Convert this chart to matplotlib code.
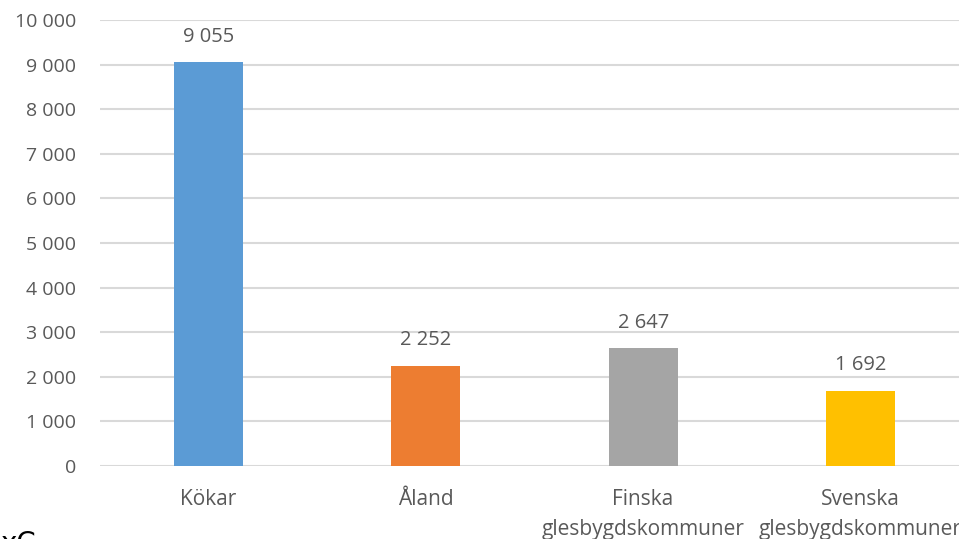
import matplotlib.pyplot as plt
import numpy as np

# Data
kategorier = ['Kökar', 'Åland', 'Finska\nglesbygdskommuner', 'Svenska\nglesbygdskommuner']
varden = [9055, 2252, 2647, 1692]
farger = ['#5B9BD5', '#ED7D31', '#A5A5A5', '#FFC000']
y_ticks = [0, 1000, 2000, 3000, 4000, 5000, 6000, 7000, 8000, 9000, 10000]

textfarg = '#595959'
plt.rcParams['font.family'] = ['Open Sans', 'DejaVu Sans']

fig = plt.figure(figsize=(9.59, 5.39), dpi=100)
# axes run a bit past the right edge, like the original
ax = fig.add_axes([100 / 959, 73 / 539, 869 / 959, 446 / 539])

x = np.arange(len(kategorier))
bars = ax.bar(x, varden, width=0.318, color=farger, zorder=3)

def fmt(v):
    return f'{v:,}'.replace(',', ' ')

for b, v in zip(bars, varden):
    ax.annotate(fmt(v), (b.get_x() + b.get_width() / 2, v), xytext=(0, 11),
                textcoords='offset points', ha='center', va='bottom',
                fontsize=14.5, color=textfarg)

ax.set_xlim(-0.5, len(kategorier) - 0.5)
ax.set_ylim(0, 10000)
ax.set_yticks(y_ticks)
ax.set_yticklabels([fmt(t) for t in y_ticks], fontsize=14)
ax.set_xticks(x)
ax.set_xticklabels(kategorier, linespacing=1.55, fontsize=15)
ax.tick_params(axis='both', length=0, colors=textfarg)
ax.tick_params(axis='x', pad=16.5)
ax.tick_params(axis='y', pad=17)

ax.grid(axis='y', color='#D9D9D9', linewidth=1.5, zorder=0)
for s in ax.spines.values():
    s.set_visible(False)

# clipped leftover text at the bottom-left corner
fig.text(0.0, 9 / 539, 'xC', fontsize=20, color='black', va='top', ha='left',
         family=['DejaVu Sans'])

fig.savefig('out.png', dpi=100)
